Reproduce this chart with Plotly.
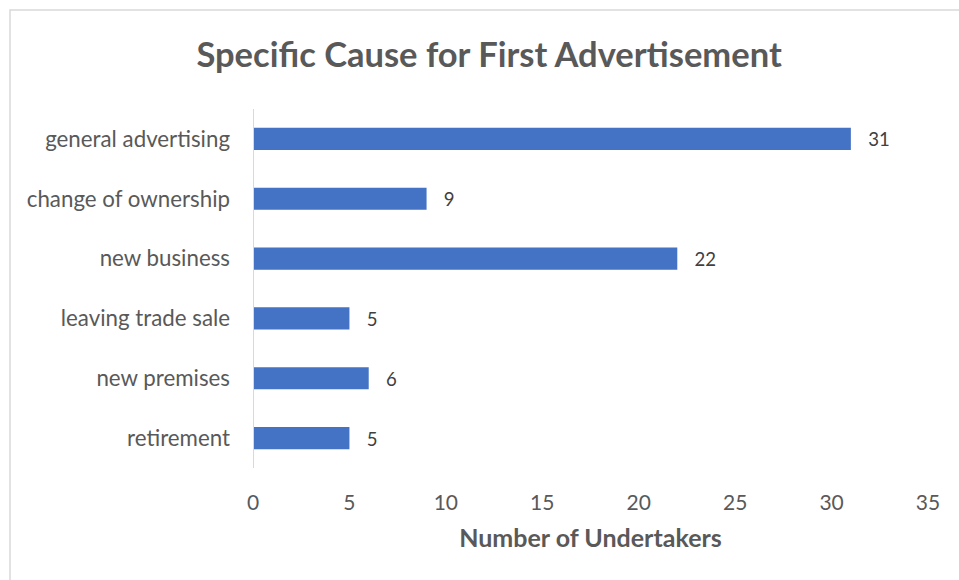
import plotly.graph_objects as go

categories = ["general advertising", "change of ownership", "new business",
              "leaving trade sale", "new premises", "retirement"]
counts = [31, 9, 22, 5, 6, 5]
x_ticks = [0, 5, 10, 15, 20, 25, 30, 35]

FONT = "Lato, 'Open Sans', sans-serif"
TXT = "#595959"

fig = go.Figure(go.Bar(
    x=counts,
    y=categories,
    orientation="h",
    marker=dict(color="#4472C4", line=dict(width=0)),
    width=0.37,
    texttemplate="   %{x}",
    textposition="outside",
    textfont=dict(family=FONT, size=21, color="#404040"),
    cliponaxis=False,
))

fig.update_layout(
    width=959, height=580,
    margin=dict(l=253, r=31, t=109, b=112),
    paper_bgcolor="white", plot_bgcolor="white",
    showlegend=False,
    title=dict(text="<b>Specific Cause for First Advertisement</b>",
               x=0.51, xanchor="center", y=0.905, yanchor="middle",
               font=dict(family=FONT, size=34.5, color=TXT)),
    xaxis=dict(range=[0, 35], tickvals=x_ticks, showgrid=False, zeroline=False,
               showline=False, ticks="", ticklabelstandoff=20,
               tickfont=dict(family=FONT, size=21, color=TXT),
               title=dict(text="<b>Number of Undertakers</b>", standoff=16,
                          font=dict(family=FONT, size=25, color=TXT))),
    yaxis=dict(categoryorder="array", categoryarray=categories[::-1],
               showgrid=False, zeroline=False, showline=False, ticks="",
               ticklabelstandoff=22,
               tickfont=dict(family=FONT, size=22.3, color=TXT)),
    shapes=[
        # vertical category axis line
        dict(type="line", xref="x", yref="paper", x0=0, x1=0, y0=0, y1=1,
             line=dict(color="#d9d9d9", width=2)),
        # chart frame
        dict(type="rect", xref="paper", yref="paper",
             x0=-243 / 675, x1=1.2, y0=-0.5, y1=(469 - 11) / 359,
             line=dict(color="#d9d9d9", width=1.5), layer="below"),
    ],
    bargap=0.63,
)

fig.write_html("out.html")
